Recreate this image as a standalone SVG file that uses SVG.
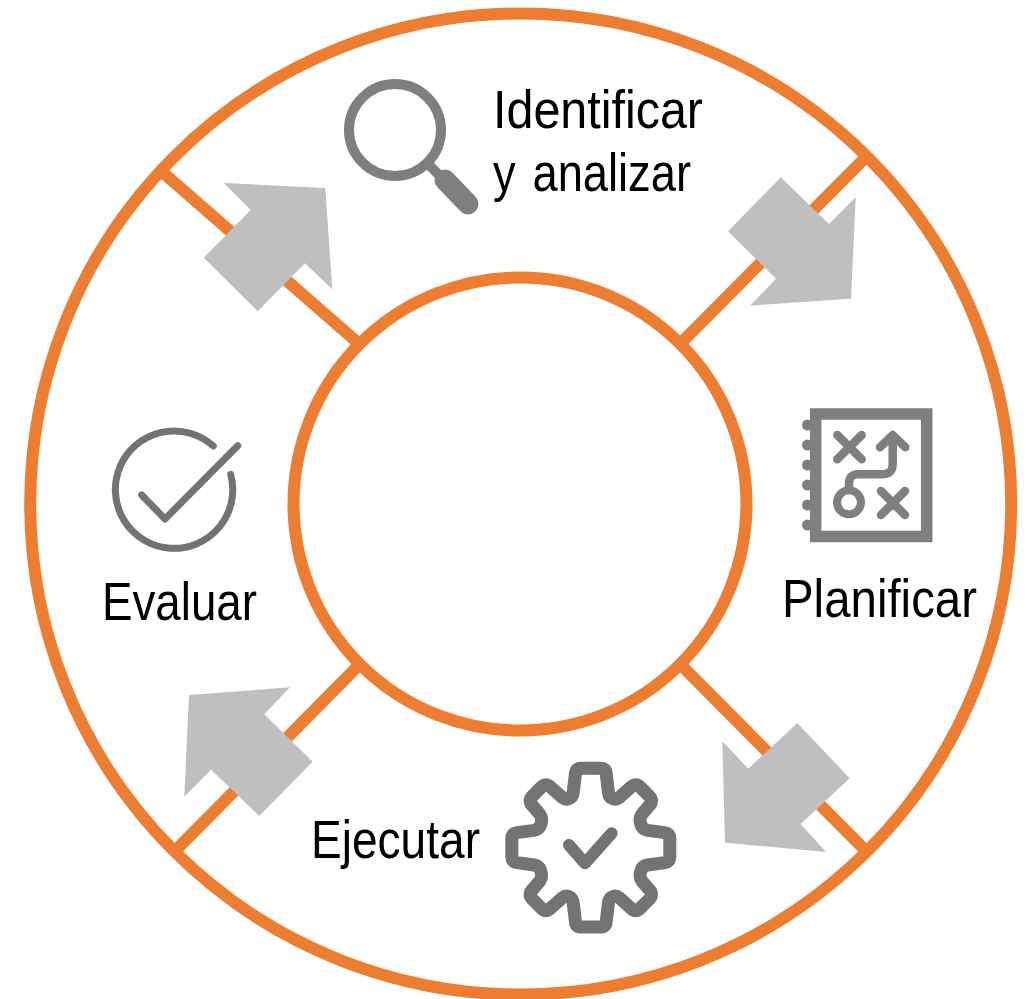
<svg xmlns="http://www.w3.org/2000/svg" width="1026" height="999" viewBox="0 0 1026 999">
<style>
.ring{fill:none;stroke:#ED7D31;stroke-width:12}
.link{fill:none;stroke:#ED7D31;stroke-width:12}
.arrow{fill:#BFBFBF}
.ic{fill:none;stroke:#7F7F7F;stroke-linecap:round;stroke-linejoin:round}
.ic2{fill:none;stroke:#737373;stroke-linecap:round;stroke-linejoin:round}
text{font-family:"Liberation Sans",Arial,sans-serif;font-size:53px;fill:#000}
</style>
<rect width="1026" height="999" fill="#fff"/>
<circle id="outer-ring" class="ring" cx="520.7" cy="504" r="490.5"/>
<g id="connectors">
<path class="link" d="M160 170L357 342"/>
<path class="link" d="M865 158L683 341"/>
<path class="link" d="M683 667L866 851"/>
<path class="link" d="M358 666L175 851"/>
<polygon class="arrow" points="223.7,183 325.3,188 332.3,289.3 305,263.3 257.7,311.3 203.7,257.7 250.7,210"/>
<polygon class="arrow" points="780.7,177.3 829,224 855.7,197.3 851,298.7 750,305.7 776,278.7 728,231.3"/>
<polygon class="arrow" points="797.3,723 849.7,778.3 800.7,824 826,852 725,842.7 722.3,741.3 748.3,768.7"/>
<polygon class="arrow" points="290,687.3 264.3,714.3 312.7,761.7 259.3,816 211,769.7 184.3,796.7 189,695"/>
</g>
<circle id="inner-ring" class="ring" cx="520" cy="504" r="226.5"/>
<g id="identificar">
<circle class="ic" cx="395" cy="130" r="46" stroke-width="10"/>
<path class="ic" d="M430 166L446 182" stroke-width="10" stroke-linecap="butt"/>
<path class="ic" d="M445 180L468 204" stroke-width="21"/>
<text x="493" y="128" textLength="210" lengthAdjust="spacingAndGlyphs">Identificar</text>
<text x="493" y="191" textLength="198" lengthAdjust="spacingAndGlyphs" word-spacing="5">y analizar</text>
</g>
<g id="planificar">
<rect x="815.7" y="414" width="111" height="122.5" fill="none" stroke="#7F7F7F" stroke-width="11.5"/>
<g fill="#7F7F7F">
<circle cx="807.5" cy="425" r="5.5"/><circle cx="807.5" cy="445" r="5.5"/><circle cx="807.5" cy="465" r="5.5"/><circle cx="807.5" cy="485" r="5.5"/><circle cx="807.5" cy="505" r="5.5"/><circle cx="807.5" cy="525" r="5.5"/>
</g>
<path class="ic" stroke-width="8.5" d="M837.3 435L861.7 459.3M861.7 435L837.3 459.3M881 491L905 515M905 491L881 515"/>
<circle class="ic" cx="849" cy="502.3" r="12" stroke-width="8"/>
<path class="ic" stroke-width="8.5" d="M849 488V484Q849 474.3 858 474.3H882Q892.7 474.3 892.7 464V435M880 447.3L892.7 435L905.3 447.3"/>
<text x="782" y="617" textLength="195" lengthAdjust="spacingAndGlyphs">Planificar</text>
</g>
<g id="ejecutar">
<g transform="translate(490,750) scale(0.3333)">
<path class="ic2" stroke-width="39" transform="translate(302.5,293)" d="M0 -238L30 -238Q45 -238 46 -223L53 -165Q55 -150 66 -147Q76 -143 85 -150L122 -183Q135 -195 147 -183L176 -154Q188 -140 176 -127L153 -100Q144 -88 150 -70Q154 -55 170 -52L222 -45Q237 -43 237 -28L237 28Q237 43 222 45L170 52Q154 55 150 70Q144 88 153 100L176 127Q188 140 176 154L147 183Q135 195 122 183L85 150Q76 143 66 147Q55 150 53 165L46 223Q45 238 30 238L-30 238Q-45 238 -46 223L-53 165Q-55 150 -66 147Q-76 143 -85 150L-122 183Q-135 195 -147 183L-176 154Q-188 140 -176 127L-153 100Q-144 88 -150 70Q-154 55 -170 52L-222 45Q-237 43 -237 28L-237 -28Q-237 -43 -222 -45L-170 -52Q-154 -55 -150 -70Q-144 -88 -153 -100L-176 -127Q-188 -140 -176 -154L-147 -183Q-135 -195 -122 -183L-85 -150Q-76 -143 -66 -147Q-55 -150 -53 -165L-46 -223Q-45 -238 -30 -238Z"/>
<path class="ic2" stroke-width="36" d="M237 285L285 340L365 250"/>
</g>
<text x="311" y="858" textLength="169" lengthAdjust="spacingAndGlyphs">Ejecutar</text>
</g>
<g id="evaluar">
<path class="ic2" stroke-width="7" d="M230.7 474.3A58.7 58.7 0 1 1 213.3 446"/>
<path class="ic2" stroke-width="7" d="M141.7 495L165 519L237.7 445.7"/>
<text x="102" y="620" textLength="155" lengthAdjust="spacingAndGlyphs">Evaluar</text>
</g>
</svg>
